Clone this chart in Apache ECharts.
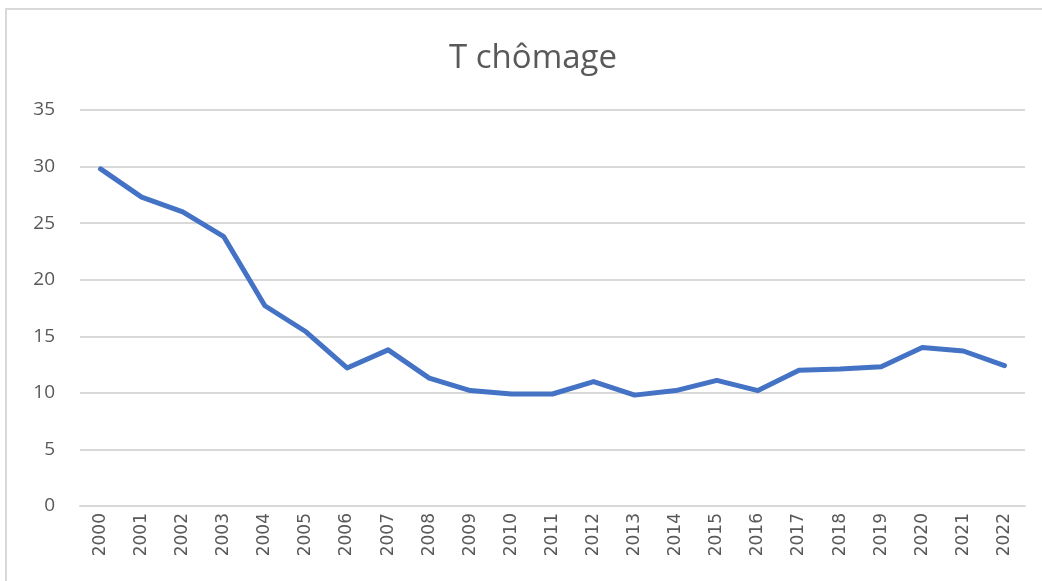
<!DOCTYPE html>
<html>
<head>
<meta charset="utf-8">
<script src="https://cdn.jsdelivr.net/npm/echarts@6/dist/echarts.min.js"></script>
<style>
    html, body { margin: 0; padding: 0; background: #fff; }
    #box {
        position: absolute; left: 5px; top: 8px; width: 1040px; height: 575px;
        border: 2px solid #d9d9d9; box-sizing: border-box;
    }
    #chart { position: absolute; left: 0; top: 0; width: 1042px; height: 581px; }
</style>
</head>
<body>
<div id="box"></div>
<div id="chart"></div>
<script>
// années et taux de chômage
const years = ['2000', '2001', '2002', '2003', '2004', '2005', '2006', '2007', '2008', '2009', '2010', '2011',
    '2012', '2013', '2014', '2015', '2016', '2017', '2018', '2019', '2020', '2021', '2022']
const tauxChomage = [29.8, 27.3, 26.0, 23.8, 17.7, 15.4, 12.2, 13.8, 11.3, 10.2, 9.9, 9.9,
    11.0, 9.8, 10.2, 11.1, 10.2, 12.0, 12.1, 12.3, 14.0, 13.7, 12.4]

const cs = echarts.init(document.getElementById('chart'))
const option = {
    animation: false,
    title: {
        text: 'T chômage',
        left: 444,
        top: 37,
        textStyle: { color: '#595959', fontSize: 33, fontWeight: 'normal', fontFamily: 'Open Sans' }
    },
    grid: { left: 80, right: 17, top: 110, bottom: 75 },
    xAxis: {
        type: 'category',
        data: years,
        boundaryGap: true,
        axisLine: { show: true, lineStyle: { color: '#d9d9d9', width: 2 } },
        axisTick: { show: false },
        axisLabel: {
            rotate: 90, color: '#595959', fontSize: 17, fontFamily: 'DejaVu Sans', margin: 7, interval: 0
        }
    },
    yAxis: {
        type: 'value',
        min: 0,
        max: 35,
        interval: 5,
        axisLine: { show: false },
        axisTick: { show: false },
        axisLabel: { color: '#595959', fontSize: 19, fontFamily: 'Open Sans', margin: 25 },
        splitLine: { lineStyle: { color: '#d9d9d9', width: 2 } }
    },
    series: [
        {
            type: 'line',
            data: tauxChomage,
            symbol: 'none',
            lineStyle: { color: '#4472C4', width: 5, cap: 'round', join: 'round' }
        }
    ]
}
cs.setOption(option)
</script>
</body>
</html>
